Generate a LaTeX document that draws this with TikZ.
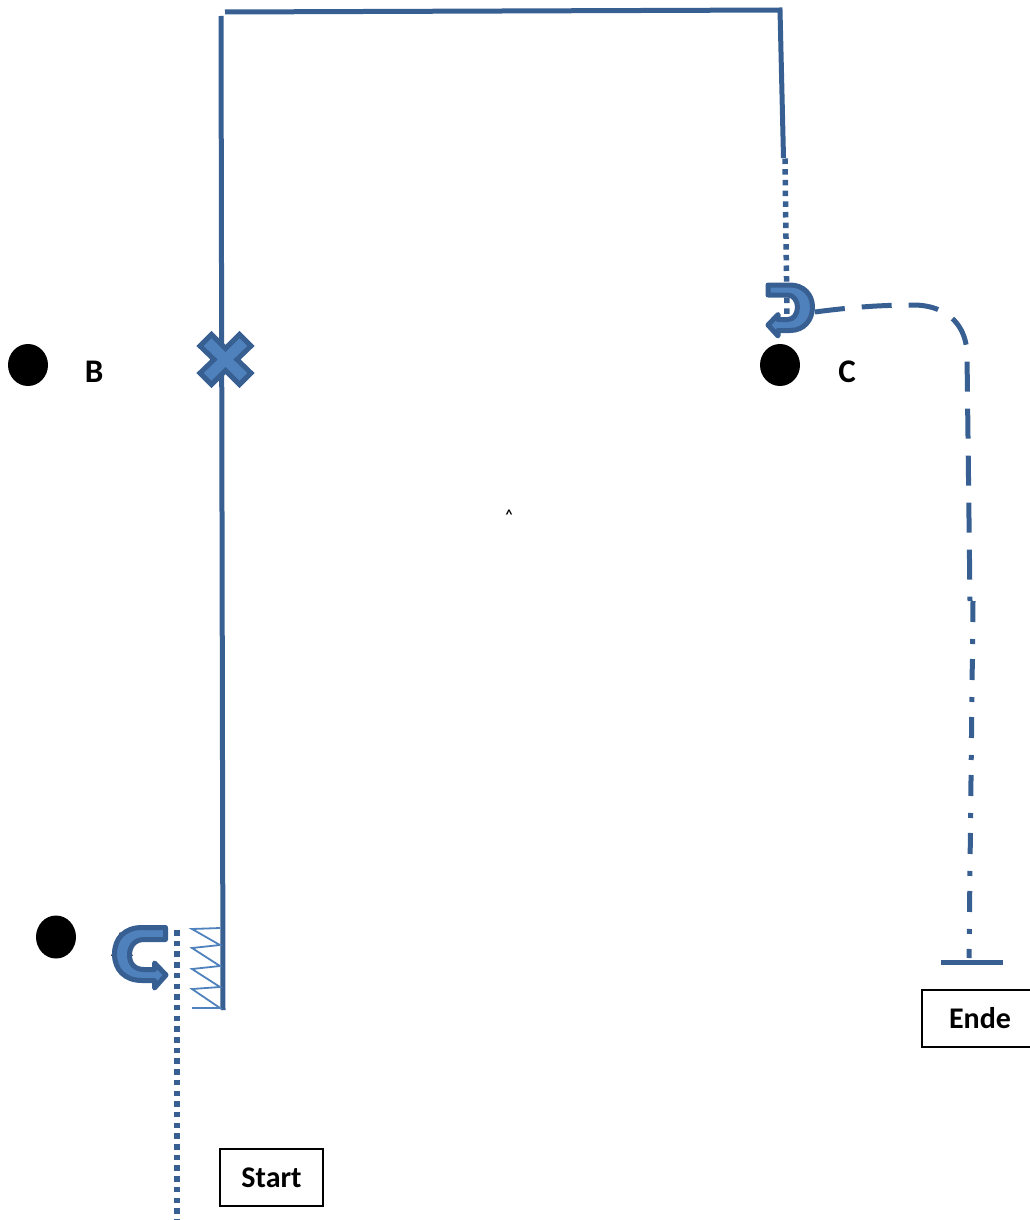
\documentclass[tikz,border=0pt]{standalone}
\usepackage{fontspec}
\setmainfont{Carlito}
\usetikzlibrary{shapes.geometric}
\definecolor{lineblue}{HTML}{385F91}
\definecolor{fillblue}{HTML}{4F81BD}
\tikzset{
  route/.style={draw=lineblue,line width=5pt},
  dotroute/.style={draw=lineblue,line width=5.5pt,dash pattern=on 5.5pt off 5.2pt},
  dashroute/.style={draw=lineblue,line width=5pt,dash pattern=on 30pt off 17pt},
  dashdotroute/.style={draw=lineblue,line width=5pt,dash pattern=on 21pt off 17pt on 5pt off 15pt},
  marker/.style={draw=lineblue,fill=fillblue,line width=5pt,line join=miter},
  spring/.style={draw=fillblue,line width=1.8pt},
  dotmark/.style={ellipse,fill=black,inner sep=0pt,minimum width=40pt,minimum height=42pt},
  lab/.style={font=\bfseries\fontsize{33}{33}\selectfont,text=black,inner sep=0pt},
  labelbox/.style={draw=black,line width=2pt,fill=white,font=\bfseries\fontsize{30}{30}\selectfont,inner sep=0pt,minimum height=57pt}
}
\begin{document}
\begin{tikzpicture}[x=1pt,y=-1pt]
\useasboundingbox (0,0) rectangle (1030,1220);
\clip (0,0) rectangle (1030,1220);
% route points
\coordinate (p1) at (223,1010);
\coordinate (p2) at (221,16);
\coordinate (p3) at (225,12);
\coordinate (p4) at (780,10);
\coordinate (p5) at (783.5,158);
\coordinate (q5) at (785,158.5);
\coordinate (p6) at (787,318);
\coordinate (d1) at (177,1220);
\coordinate (d2) at (177,930);
\coordinate (e1) at (815,312);
\coordinate (e2) at (967,355);
\coordinate (e3) at (970,601);
\coordinate (f1) at (973,601);
\coordinate (f2) at (969,958);
\coordinate (b1) at (941,962);
\coordinate (b2) at (1003,962);
% dots and labels
\node[dotmark] (dotB) at (28,365) {};
\node[dotmark] (dotC) at (780,365) {};
\node[dotmark,minimum height=43pt] (dotA) at (56,937) {};
\node[lab] (labB) at (94,372) {B};
\node[lab] (labC) at (847,372) {C};
\node[font=\bfseries\fontsize{36}{36}\selectfont,inner sep=0pt,anchor=base] (labA) at (122,956) {A};
\node[font=\bfseries\fontsize{14}{14}\selectfont,inner sep=0pt] (caret) at (509,515) {\^{}};
% routes
\draw[route] (p1) -- (p2);
\draw[route] (p3) -- (p4) -- (p5);
\draw[dotroute] (q5) -- (p6);
\draw[dotroute] (d2) -- (d1);
\draw[dashroute] (e1) .. controls (860,306) and (890,305) .. (915,305) .. controls (950,306) and (967,328) .. (e2) -- (e3);
\draw[dashdotroute] (f1) -- (f2);
\draw[draw=lineblue,line width=5pt] (b1) -- (b2);
% spring
\draw[spring] (220,928) -- (192,929) -- (220,945) -- (192,948) -- (220,966) -- (192,969) -- (220,987) -- (192,989) -- (220,1008) -- (192,1008);
% cross
\path[marker] (225.5,348.5) -- (239.5,334.5) -- (251,346) -- (237,359.5) -- (251,373) -- (239.5,384.5) -- (225.5,370.5) -- (211.5,384.5) -- (200,373) -- (214,359.5) -- (200,346) -- (211.5,334.5) -- cycle;
% u-turn at A
\path[marker,line join=round] (165.5,927.5) -- (165.5,939.5) -- (144,939.5)
  .. controls (135,939.5) and (129.5,946) .. (129.5,955)
  .. controls (129.5,964) and (135,969.5) .. (144,969.5)
  -- (154.5,969.5) -- (154.5,963) -- (166,975) -- (154.5,988) -- (154.5,980.5) -- (142,980.5)
  .. controls (125,980.5) and (114.5,970) .. (114.5,954)
  .. controls (114.5,938) and (125,927.5) .. (142,927.5) -- cycle;
% u-turn at C
\path[marker,line join=round] (768,285) -- (768,295) -- (788,295)
  .. controls (793.5,295) and (797.5,301) .. (797.5,307)
  .. controls (797.5,314) and (793.5,319.5) .. (788,319.5)
  -- (778,319.5) -- (778,314.5) -- (768,325) -- (778,336) -- (778,330.5) -- (790,330.5)
  .. controls (804,330.5) and (812.5,320) .. (812.5,307)
  .. controls (812.5,295) and (804,285) .. (790,285) -- cycle;
% boxes
\node[labelbox,minimum width=103pt] (start) at (271.5,1177.5) {Start};
\node[labelbox,minimum width=116pt] (ende) at (980,1018.5) {Ende};
\end{tikzpicture}
\end{document}
